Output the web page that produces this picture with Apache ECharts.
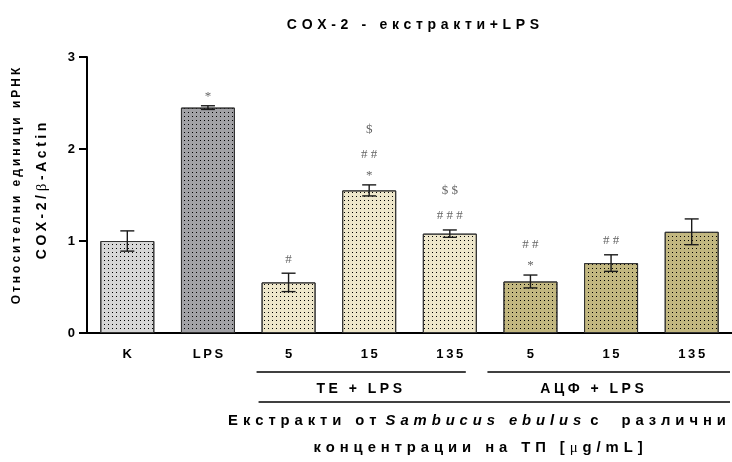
<!DOCTYPE html>
<html>
<head>
<meta charset="utf-8">
<script src="https://cdn.jsdelivr.net/npm/echarts@6/dist/echarts.min.js"></script>
<style>
  html, body { margin: 0; padding: 0; background: #fff; }
  #chart { width: 732px; height: 462px; }
</style>
</head>
<body>
<div id="chart"></div>
<script>
// COX-2 relative mRNA expression (COX-2/β-Actin), mean ± SD
const categories = ['K', 'LPS', 'TE 5', 'TE 15', 'TE 135', 'АЦФ 5', 'АЦФ 15', 'АЦФ 135'];
const tickLabels = ['K', 'LPS', '5', '15', '135', '5', '15', '135'];
const means = [1.00, 2.45, 0.55, 1.55, 1.08, 0.56, 0.76, 1.10];
const errors = [0.11, 0.02, 0.10, 0.06, 0.04, 0.07, 0.09, 0.14];
// significance marks, listed from the bar upward
const marks = [[], ['*'], ['#'], ['*', '##', '$'], ['###', '$$'], ['*', '##'], ['##'], []];
const fills = ['#d7d7d7', '#a2a2a6', '#eee7cb', '#eee7cb', '#eee7cb', '#c2b780', '#c2b780', '#c2b780'];
const groups = ['TE + LPS', 'АЦФ + LPS'];

// widen letter spacing by putting a narrow space between characters
function spaced(s, sp) {
  return Array.from(s).join(sp || '\u2009');
}

const FONT = 'Liberation Sans, Arial, sans-serif';
const SERIF = 'Liberation Serif, Times New Roman, serif';

const chart = echarts.init(document.getElementById('chart'), null, { renderer: 'canvas' });

const dotDecal = {
  symbol: 'rect',
  symbolSize: 1,
  dashArrayX: [1, 3],
  dashArrayY: [1, 3],
  color: '#000'
};

const barData = means.map((v, i) => ({
  value: v,
  itemStyle: { color: fills[i], borderColor: '#333', borderWidth: 1, decal: dotDecal }
}));

const errData = means.map((v, i) => [i, v - errors[i], v + errors[i]]);

function renderErr(params, api) {
  const i = api.value(0);
  const top = api.coord([i, api.value(2)]);
  const bot = api.coord([i, api.value(1)]);
  const half = 7;
  const st = { stroke: '#1a1a1a', lineWidth: 1.4 };
  return {
    type: 'group',
    children: [
      { type: 'line', shape: { x1: top[0], y1: top[1], x2: bot[0], y2: bot[1] }, style: st },
      { type: 'line', shape: { x1: top[0] - half, y1: top[1], x2: top[0] + half, y2: top[1] }, style: st },
      { type: 'line', shape: { x1: bot[0] - half, y1: bot[1], x2: bot[0] + half, y2: bot[1] }, style: st }
    ]
  };
}

function renderMarks(params, api) {
  const i = api.value(0);
  const top = api.coord([i, api.value(2)]);
  const list = marks[i];
  let lift = 0;
  const children = list.map((m, k) => {
    if (k === 0) lift = m[0] === '*' ? 9 : 14;
    else lift += m[0] === '$' ? 25 : 21;
    return {
      type: 'text',
      x: top[0],
      y: top[1] - lift,
      style: {
        text: spaced(m, '\u2005'),
        fill: '#666',
        font: '13px ' + SERIF,
        align: 'center',
        verticalAlign: 'middle'
      }
    };
  });
  return { type: 'group', children: children };
}

const option = {
  animation: false,
  backgroundColor: '#fff',
  title: {
    text: spaced('COX-2 - екстракти+LPS', '\u2004'),
    left: 408,
    top: 13,
    textAlign: 'center',
    textStyle: { fontFamily: FONT, fontWeight: 'bold', fontSize: 14, color: '#000' }
  },
  grid: { left: 87, right: 0, top: 57, bottom: 129, containLabel: false },
  xAxis: {
    type: 'category',
    data: categories,
    axisLine: { lineStyle: { color: '#000', width: 2 } },
    axisTick: { alignWithLabel: true, length: 7, lineStyle: { color: '#000', width: 2 } },
    axisLabel: {
      margin: 15,
      color: '#000',
      fontFamily: FONT,
      fontWeight: 'bold',
      fontSize: 13,
      formatter: (v, idx) => spaced(tickLabels[idx])
    }
  },
  yAxis: {
    type: 'value',
    min: 0,
    max: 3,
    interval: 1,
    splitLine: { show: false },
    axisLine: { show: true, lineStyle: { color: '#000', width: 2 } },
    axisTick: { show: true, length: 8, lineStyle: { color: '#000', width: 2 } },
    axisLabel: { margin: 12, color: '#000', fontFamily: FONT, fontWeight: 'bold', fontSize: 13 }
  },
  series: [
    { type: 'bar', data: barData, barWidth: 54, z: 2 },
    {
      type: 'custom', renderItem: renderErr, data: errData,
      encode: { x: 0, y: [1, 2] }, z: 3, silent: true
    },
    {
      type: 'custom', renderItem: renderMarks, data: errData,
      encode: { x: 0, y: [1, 2] }, z: 4, silent: true
    }
  ]
};

chart.setOption(option);

// group brackets, group names and axis titles, placed from the category axis
const px = i => chart.convertToPixel({ xAxisIndex: 0 }, i);
const W = chart.getWidth();
const lineStyle = { stroke: '#000', lineWidth: 1.5 };
const yBracket = 372, yBase = 402;
const teStart = px(2) - 32, teEnd = px(4) + 16;
const acStart = px(5) - 43, acEnd = W - 2;

chart.setOption({
  graphic: [
    { type: 'line', shape: { x1: teStart, y1: yBracket, x2: teEnd, y2: yBracket }, style: lineStyle },
    { type: 'line', shape: { x1: acStart, y1: yBracket, x2: acEnd, y2: yBracket }, style: lineStyle },
    { type: 'line', shape: { x1: teStart + 2, y1: yBase, x2: acEnd, y2: yBase }, style: lineStyle },
    {
      type: 'text', x: px(3) - 10, y: 389,
      style: { text: spaced(groups[0], '\u2005'), font: 'bold 14px ' + FONT, fill: '#000', align: 'center', verticalAlign: 'middle' }
    },
    {
      type: 'text', x: px(6) - 19, y: 389,
      style: { text: spaced(groups[1], '\u2005'), font: 'bold 14px ' + FONT, fill: '#000', align: 'center', verticalAlign: 'middle' }
    },
    {
      type: 'text', x: 477, y: 421,
      style: {
        text: '{r|' + spaced('Екстракти от ', '\u2004') + '}{i|' + spaced('Sambucus ebulus', '\u2004') + '}{r|' + spaced(' с  различни', '\u2004') + '}',
        align: 'center', verticalAlign: 'middle',
        rich: {
          r: { font: 'bold 14.8px ' + FONT, fill: '#000' },
          i: { font: 'italic bold 14.8px ' + FONT, fill: '#000' }
        }
      }
    },
    {
      type: 'text', x: 478, y: 448,
      style: {
        text: '{r|' + spaced('концентрации на ТП [', '\u2004') + '}{m|\u2004μ\u2004}{r|' + spaced('g/mL]', '\u2004') + '}',
        align: 'center', verticalAlign: 'middle',
        rich: {
          r: { font: 'bold 14.8px ' + FONT, fill: '#000' },
          m: { font: '14.8px ' + SERIF, fill: '#000' }
        }
      }
    },
    {
      type: 'text', x: 17, y: 186, rotation: Math.PI / 2,
      style: { text: spaced('Относителни единици иРНК', '\u2005'), font: 'bold 12px ' + FONT, fill: '#000', align: 'center', verticalAlign: 'middle' }
    },
    {
      type: 'text', x: 42, y: 191, rotation: Math.PI / 2,
      style: {
        text: '{r|' + spaced('COX-2/', '\u2005') + '}{b|\u2005β\u2005}{r|' + spaced('-Actin', '\u2005') + '}',
        align: 'center', verticalAlign: 'middle',
        rich: {
          r: { font: 'bold 14px ' + FONT, fill: '#000' },
          b: { font: '15px ' + SERIF, fill: '#000' }
        }
      }
    }
  ]
});
</script>
</body>
</html>
